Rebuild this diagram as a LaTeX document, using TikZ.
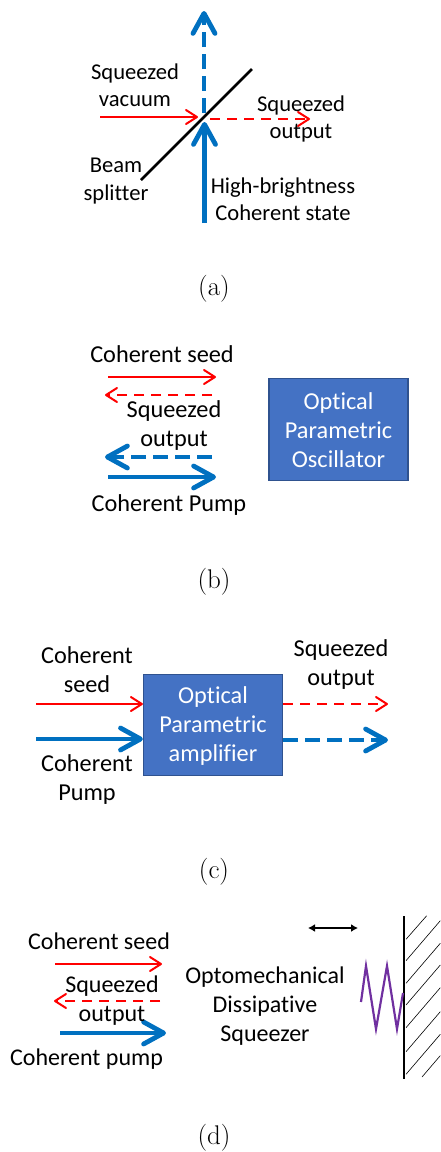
\documentclass[tikz,border=0pt]{standalone}
\usepackage{fontspec}
\setmainfont[Ligatures=NoCommon]{Carlito}
\usepackage{xcolor}
\usetikzlibrary{arrows.meta,positioning}
\definecolor{beamblue}{HTML}{0070C0}
\definecolor{boxblue}{HTML}{4472C4}
\definecolor{boxedge}{HTML}{2F528F}
\definecolor{springpurple}{HTML}{7030A0}
\newcommand{\capfont}{\fontspec{Latin Modern Roman}\fontsize{27}{32}\selectfont}

\begin{document}
\begin{tikzpicture}[
  x=1pt, y=-1pt, node distance=10pt,
  L/.style={align=center, inner sep=0pt, font=\fontsize{24.3}{29}\selectfont},
  La/.style={align=center, inner sep=0pt, font=\fontsize{22.6}{27.5}\selectfont},
  Ld/.style={align=center, inner sep=0pt, font=\fontsize{24}{29}\selectfont},
  Cap/.style={inner sep=0pt, font=\capfont},
  B/.style={draw=boxedge, line width=1.2pt, fill=boxblue, text=white, align=center,
            font=\fontsize{24.3}{29}\selectfont,
            inner sep=0pt, minimum width=139pt, minimum height=#1},
  thinred/.style={draw=red, line width=2pt, -{Straight Barb[length=11pt,width=14pt,line width=2pt,round]}},
  thickblue/.style={draw=beamblue, line width=4.8pt, -{Straight Barb[length=20pt,width=22pt,line width=4.8pt,round]}},
  dashred/.style={thinred, dash pattern=on 10pt off 7pt},
  dashblue/.style={thickblue, dash pattern=on 15pt off 7pt},
]
\useasboundingbox (0,0) rectangle (441,1152);

% (a) beam splitter
\coordinate (bsin) at (100,117);
\coordinate (bsred) at (198,117);
\coordinate (bsout) at (210,119);
\coordinate (bsend) at (310,119);
\coordinate (pumpin) at (204.5,223);
\coordinate (pumpbs) at (204.5,122);
\coordinate (pumpbk) at (204,113);
\coordinate (pumpup) at (204,11);
\coordinate (bslow) at (141,180);
\coordinate (bshigh) at (252,69);

\draw[thinred] (bsin) -- (bsred);
\draw[dashred] (bsout) -- (bsend);
\draw[thickblue] (pumpin) -- (pumpbs);
\draw[dashblue] (pumpbk) -- (pumpup);
\draw[line width=2.5pt] (bslow) -- (bshigh);

\node[La] (vac) at (135,85) {Squeezed\\vacuum};
\node[La] (sqa) at (301,119) {Squeezed\\output};
\node[La] (spl) at (116,181) {Beam\\splitter};
\node[La] (hib) at (283,199) {High-brightness\\Coherent state};
\node[Cap] (capa) at (214,289) {(a)};

% (b) oscillator
\node[B=102pt] (opo) at (338.5,429.5) {\rule{0pt}{18.5pt}Optical\\Parametric\\Oscillator};
\coordinate (seedb) at (108,377);
\coordinate (seedbe) at (216,377);
\coordinate (sqbs) at (212,395);
\coordinate (sqbe) at (105,395);
\coordinate (pobs) at (212,457);
\coordinate (pobe) at (105,457);
\coordinate (pumpb) at (108,477);
\coordinate (pumpbe) at (216,477);

\draw[thinred] (seedb) -- (seedbe);
\draw[dashred] (sqbs) -- (sqbe);
\draw[dashblue] (pobs) -- (pobe);
\draw[thickblue] (pumpb) -- (pumpbe);

\node[L] (seedl) at (162,354) {Coherent seed};
\node[L] (sqb) at (174,426) {Squeezed\\output};
\node[L] (puml) at (169,505) {Coherent Pump};
\node[Cap] (capb) at (214,582) {(b)};

% (c) amplifier
\node[B=101pt] (opa) at (213,725) {\rule{0pt}{18.5pt}Optical\\Parametric\\amplifier};
\coordinate (seedc) at (36,704);
\coordinate (pumpc) at (36,739);
\coordinate (seedcb) at (opa.west |- seedc);
\coordinate (pumpcb) at (opa.west |- pumpc);
\coordinate (sqcs) at (opa.east |- seedc);
\coordinate (sqce) at (388,704);
\coordinate (pocs) at (opa.east |- 0,740);
\coordinate (poce) at (388,740);

\draw[thinred] (seedc) -- (seedcb);
\draw[thickblue] (pumpc) -- (pumpcb);
\draw[dashred] (sqcs) -- (sqce);
\draw[dashblue] (pocs) -- (poce);

\node[L] (seedm) at (87,670) {Coherent\\seed};
\node[L] (pumm) at (87,780) {Coherent\\Pump};
\node[L] (sqc) at (341,665) {Squeezed\\output};
\node[Cap] (capc) at (214,872) {(c)};

% (d) optomechanical squeezer
\coordinate (seedd) at (55,964);
\coordinate (seedde) at (162,964);
\coordinate (sqds) at (160,1001);
\coordinate (sqde) at (54,1001);
\coordinate (pumpd) at (60,1033);
\coordinate (pumpde) at (166,1033);
\coordinate (walltop) at (404,916);
\coordinate (wallbot) at (404,1079);
\coordinate (movl) at (308,928);
\coordinate (movr) at (358,928);

\draw[thinred] (seedd) -- (seedde);
\draw[dashred] (sqds) -- (sqde);
\draw[thickblue] (pumpd) -- (pumpde);
\draw[line width=1.5pt, {Latex[length=7pt,width=8pt]}-{Latex[length=7pt,width=8pt]}] (movl) -- (movr);

% hatching behind the wall
\draw[line width=0.6pt] (406,939.3) -- (426.7,915.7);
\foreach \hy in {960.7,983.3,1005,1027.7,1051.7,1074.3}
  \draw[line width=0.6pt] (406,\hy) -- ++(34.3,-40);
\draw[line width=0.6pt] (422,1077) -- (440.3,1055.6);
\draw[line width=2.5pt] (walltop) -- (wallbot);
\draw[springpurple, line width=2.2pt] (361,1002) -- (366,966) -- (376,1029) -- (387,966) -- (397,1029) -- (403,993);

\node[Ld] (seedn) at (99,941) {Coherent seed};
\node[Ld] (sqd) at (112,1000.5) {Squeezed\\output};
\node[Ld] (pumn) at (86.5,1059) {Coherent pump};
\node[Ld] (oms) at (265,1006.5) {Optomechanical\\Dissipative\\Squeezer};
\node[Cap] (capd) at (214,1138) {(d)};
\end{tikzpicture}
\end{document}
